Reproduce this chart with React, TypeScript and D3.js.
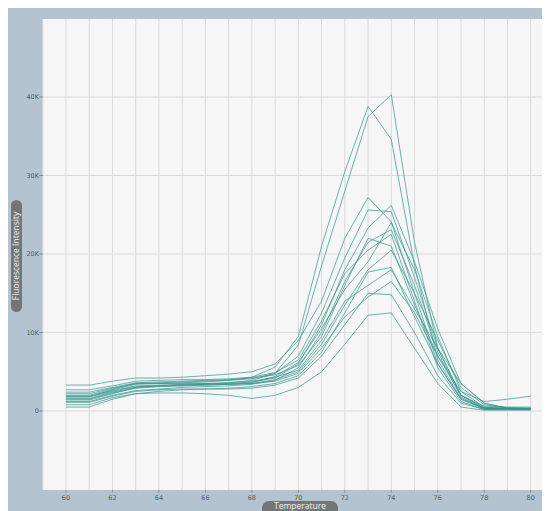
import { useEffect, useRef } from "react";
import * as d3 from "d3";

const temps = d3.range(60, 81);

// fluorescence (thousands) per well, one value per degree 60..80
const wellA = [1.8, 1.8, 2.7, 3.4, 3.5, 3.6, 3.7, 3.9, 4.3, 5.6, 9.5, 21, 30.5, 38.8, 34.6, 18.5, 6.5, 1.6, 0.4, 0.4, 0.4];
const wellB = [1.4, 1.4, 2.2, 3.0, 3.2, 3.3, 3.4, 3.6, 3.9, 4.8, 8.4, 18.5, 28, 37.5, 40.3, 21.5, 8, 2, 0.6, 0.5, 0.5];
const wellC = [3.3, 3.3, 3.8, 4.2, 4.2, 4.3, 4.5, 4.7, 5.0, 6.0, 9.0, 14, 22, 27.2, 24.1, 15, 6, 1.5, 0.3, 0.3, 0.3];
const wellD = [2.0, 2.0, 2.8, 3.5, 3.6, 3.7, 3.8, 3.9, 4.1, 4.8, 7.0, 12.5, 19.5, 25.6, 25.4, 17, 8, 2, 0.4, 0.3, 0.3];
const wellE = [1.6, 1.6, 2.4, 3.0, 3.2, 3.3, 3.4, 3.5, 3.7, 4.2, 6.0, 11, 18, 23.3, 26.2, 19, 10.5, 3.5, 1.0, 0.4, 0.3];
const wellF = [1.2, 1.2, 2.0, 2.6, 2.8, 3.0, 3.1, 3.2, 3.4, 3.9, 5.5, 10, 16.5, 21.5, 23.1, 16, 7.5, 1.8, 0.3, 0.3, 0.3];
const wellG = [2.7, 2.7, 3.2, 3.8, 3.9, 4.0, 4.0, 4.1, 4.3, 4.9, 6.5, 11.5, 17.5, 20.5, 22.5, 14, 5.5, 1.2, 0.2, 0.2, 0.2];
const wellH = [1.8, 1.8, 2.5, 3.1, 3.2, 3.3, 3.3, 3.4, 3.5, 4.0, 5.0, 8.5, 13.5, 18, 20.5, 15, 9, 3, 0.8, 0.4, 0.3];
const wellI = [0.5, 0.5, 1.5, 2.2, 2.5, 2.7, 2.8, 2.9, 3.1, 3.5, 4.5, 7.5, 12.5, 17.7, 18.3, 12, 6, 1.5, 0.3, 0.3, 0.3];
const wellJ = [1.1, 1.1, 1.9, 2.5, 2.7, 2.8, 2.8, 2.8, 2.9, 3.3, 4.2, 7, 11, 15, 14.8, 10, 4.5, 1.0, 0.2, 0.2, 0.2];
const wellK = [2.2, 2.2, 2.9, 3.5, 3.5, 3.5, 3.5, 3.4, 3.5, 3.8, 4.8, 8, 12, 14.5, 16.5, 12.5, 7, 2.5, 1.2, 1.5, 1.9];
const wellL = [0.8, 0.8, 1.7, 2.2, 2.3, 2.3, 2.2, 2.0, 1.6, 2.0, 3.0, 5, 8.5, 12.2, 12.5, 8, 3.5, 0.5, 0.1, 0.1, 0.1];
const wellM = [1.5, 1.5, 2.3, 2.9, 3.1, 3.2, 3.3, 3.4, 3.6, 4.4, 6.2, 10.5, 15.5, 19, 24, 18, 9.5, 2.5, 0.5, 0.3, 0.3];
const wellN = [2.4, 2.4, 3.0, 3.6, 3.7, 3.8, 3.9, 4.0, 4.2, 4.6, 5.8, 9.5, 16, 22, 21, 13.5, 7, 2, 0.4, 0.3, 0.3];
const wellO = [1.9, 1.9, 2.6, 3.2, 3.3, 3.4, 3.5, 3.6, 3.8, 4.3, 5.2, 9, 14, 16, 18, 13, 8, 3.5, 1.0, 0.3, 0.3];

const wells = [wellA, wellB, wellC, wellD, wellE, wellF, wellG, wellH, wellI, wellJ, wellK, wellL, wellM, wellN, wellO];

const xTicks = d3.range(60, 81, 2);
const yTicks = [0, 10000, 20000, 30000, 40000];
const yTickLabels = ["0", "10K", "20K", "30K", "40K"];

const W = 542;
const H = 503;

const MeltChart = () => {
    const svgRef = useRef(null);

    useEffect(() => {
        document.documentElement.style.overflow = "hidden";
        const svg = d3.select(svgRef.current);
        svg.selectAll("*").remove();

        const left = 35;
        const top = 11;
        const bottom = 482;

        const x = d3.scaleLinear().domain([60, 80]).range([58, 522.7]);
        const y = d3.scaleLinear().domain([-10000, 50000]).range([481.5, 10.5]);

        svg.append("rect").attr("width", W).attr("height", H).attr("fill", "#b4c3d0");
        svg.append("rect")
            .attr("x", left)
            .attr("y", top)
            .attr("width", W - left)
            .attr("height", bottom - top)
            .attr("fill", "#f6f6f6");

        // grid
        const grid = svg.append("g");
        grid.selectAll("line.v")
            .data(d3.range(59, 82))
            .join("line")
            .attr("x1", (d) => x(d))
            .attr("x2", (d) => x(d))
            .attr("y1", top)
            .attr("y2", bottom)
            .attr("stroke", "#dadada")
            .attr("stroke-width", 1);
        grid.selectAll("line.h")
            .data(yTicks)
            .join("line")
            .attr("x1", left)
            .attr("x2", W)
            .attr("y1", (d) => y(d))
            .attr("y2", (d) => y(d))
            .attr("stroke", "#dadada")
            .attr("stroke-width", 1);

        // curves
        const line = d3.line()
            .x((d, i) => x(temps[i]))
            .y((d) => y(d * 1000));
        svg.append("g")
            .selectAll("path")
            .data(wells)
            .join("path")
            .attr("d", (d) => line(d))
            .attr("fill", "none")
            .attr("stroke", "#36958f")
            .attr("stroke-opacity", 0.72)
            .attr("stroke-width", 1);

        // y axis ticks
        const yAxis = svg.append("g");
        yTicks.forEach((t, i) => {
            yAxis.append("line")
                .attr("x1", 31.5)
                .attr("x2", left)
                .attr("y1", y(t))
                .attr("y2", y(t))
                .attr("stroke", "#888");
            yAxis.append("text")
                .attr("x", 31)
                .attr("y", y(t))
                .attr("dy", "0.35em")
                .attr("text-anchor", "end")
                .style("font-family", "DejaVu Sans")
                .style("font-size", "6.5px")
                .attr("fill", "#5a5a5a")
                .text(yTickLabels[i]);
        });

        // x axis ticks
        const xAxis = svg.append("g");
        xTicks.forEach((t) => {
            xAxis.append("line")
                .attr("x1", x(t))
                .attr("x2", x(t))
                .attr("y1", bottom)
                .attr("y2", bottom + 2.5)
                .attr("stroke", "#888");
            xAxis.append("text")
                .attr("x", x(t))
                .attr("y", 491.5)
                .attr("text-anchor", "middle")
                .style("font-family", "DejaVu Sans")
                .style("font-size", "6.5px")
                .attr("fill", "#5a5a5a")
                .text(t);
        });

        // axis title pills
        svg.append("rect")
            .attr("x", 3)
            .attr("y", 192)
            .attr("width", 11)
            .attr("height", 112)
            .attr("rx", 5.5)
            .attr("fill", "#737679");
        svg.append("text")
            .attr("transform", "translate(8.5,248) rotate(-90)")
            .attr("text-anchor", "middle")
            .attr("dy", "0.35em")
            .style("font-family", "Open Sans")
            .style("font-size", "8.5px")
            .attr("fill", "#f2f2f2")
            .text("Fluorescence Intensity");

        svg.append("rect")
            .attr("x", 254)
            .attr("y", 493)
            .attr("width", 76)
            .attr("height", 16)
            .attr("rx", 7)
            .attr("fill", "#737679");
        svg.append("text")
            .attr("x", 292)
            .attr("y", 501)
            .attr("text-anchor", "middle")
            .style("font-family", "Open Sans")
            .style("font-size", "8.5px")
            .attr("fill", "#f2f2f2")
            .text("Temperature");
    }, []);

    return <svg ref={svgRef} width={W} height={H} style={{ display: "block" }} />;
};

export default function App() {
    return <MeltChart />;
}
